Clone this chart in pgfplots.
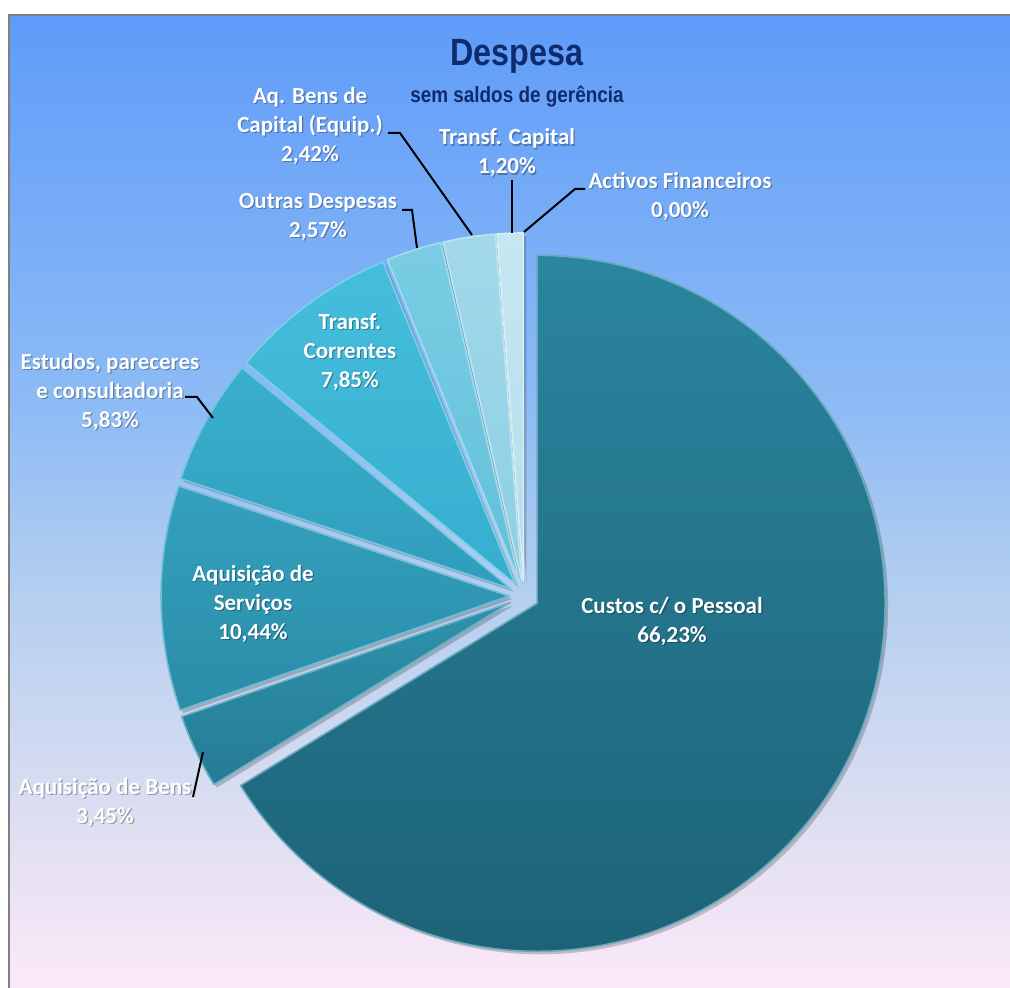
\documentclass[border=0pt]{standalone}
\usepackage{fontspec}
\setmainfont{Carlito}
\newfontfamily\titlefont{Liberation Sans}
\usepackage{graphicx}
\usepackage{pgfplots}
\usepackage{pgfplotstable}
\pgfplotsset{compat=1.18}

% slice colours (top / bottom of each gradient)
\definecolor{s0t}{HTML}{2A859E}\definecolor{s0b}{HTML}{1D6378}
\definecolor{s1t}{HTML}{2F92AC}\definecolor{s1b}{HTML}{257C94}
\definecolor{s2t}{HTML}{34A1BE}\definecolor{s2b}{HTML}{2A8CA8}
\definecolor{s3t}{HTML}{3AB0CE}\definecolor{s3b}{HTML}{2F9DBB}
\definecolor{s4t}{HTML}{45BEDD}\definecolor{s4b}{HTML}{36AECF}
\definecolor{s5t}{HTML}{7ACDE3}\definecolor{s5b}{HTML}{62C0DA}
\definecolor{s6t}{HTML}{A2D9EA}\definecolor{s6b}{HTML}{8DCFE3}
\definecolor{s7t}{HTML}{C6E7F1}\definecolor{s7b}{HTML}{B3DDEA}
\definecolor{s8t}{HTML}{DDF0F6}\definecolor{s8b}{HTML}{CFE9F1}
\definecolor{titleblue}{HTML}{0F2B6B}

\pgfdeclareverticalshading{bgshade}{100bp}{%
  color(0bp)=(rgb,255:red,252;green,233;blue,248);
  color(25bp)=(rgb,255:red,252;green,233;blue,248);
  color(34bp)=(rgb,255:red,220;green,222;blue,241);
  color(45bp)=(rgb,255:red,181;green,207;blue,240);
  color(55bp)=(rgb,255:red,141;green,187;blue,245);
  color(75bp)=(rgb,255:red,95;green,156;blue,249);
  color(100bp)=(rgb,255:red,95;green,156;blue,249)}

% share of each item in the expenditure (%)
\pgfplotstableread{
item        value
Custos      66.23
AqBens      3.45
Servicos    10.44
Estudos     5.83
TCorrentes  7.85
Outras      2.57
AqCapital   2.42
TCapital    1.20
Activos     0.00
}\despesa

\tikzset{lab/.style={text=white, align=center, inner sep=0pt,
  font=\fontsize{11.5}{14.5}\selectfont\bfseries}}
% white label with a soft dark shadow
\newcommand\lbl[2]{%
  \node[lab, text=black, opacity=0.3] at ([shift={(0.6pt,-0.6pt)}]axis cs:#1) {#2};
  \node[lab] at (axis cs:#1) {#2};}

\begin{document}
\begin{tikzpicture}
\begin{axis}[
    hide axis,
    scale only axis,
    width=505pt, height=494pt,
    xmin=0, xmax=1010, ymin=0, ymax=988,
    clip=false,
]
% background panel
\pgfplotsextra{
  \shade[shading=bgshade] (axis cs:10,0) rectangle (axis cs:1010,973);
  \draw[color=black!50, line width=1.3pt]
    (axis cs:9,0) -- (axis cs:9,973) -- (axis cs:1010,973);
}
% pie, clockwise from 12 o'clock, every slice pulled out a little
\pgfplotsextra{
  \pgfplotstablegetrowsof{\despesa}
  \pgfmathtruncatemacro\nrows{\pgfplotsretval-1}
  \xdef\angstart{90}
  \foreach \i in {0,...,\nrows}{
    \pgfplotstablegetelem{\i}{value}\of{\despesa}
    \pgfmathsetmacro\sweep{3.6*\pgfplotsretval}
    \pgfmathsetmacro\angend{\angstart-\sweep}
    \pgfmathsetmacro\mid{\angstart-\sweep/2}
    \pgfmathsetmacro\ox{524+15*cos(\mid)}
    \pgfmathsetmacro\oy{392+15*sin(\mid)}
    \ifdim\sweep pt>0.01pt
      \fill[black, opacity=0.2]
        ([shift={(1.5pt,-1.5pt)}]axis cs:\ox,\oy) -- ++(\angstart:174pt)
        arc[start angle=\angstart, end angle=\angend, radius=174pt] -- cycle;
      \path[top color=s\i t, bottom color=s\i b, draw=s\i t!70!white, line width=0.8pt,
            line join=round]
        (axis cs:\ox,\oy) -- ++(\angstart:174pt)
        arc[start angle=\angstart, end angle=\angend, radius=174pt] -- cycle;
    \fi
    \xdef\angstart{\angend}
  }
}
% leader lines
\draw[black, line width=1pt] (axis cs:388,855) -- (axis cs:400,855) -- (axis cs:472,753);
\draw[black, line width=1pt] (axis cs:512,808) -- (axis cs:512,755);
\draw[black, line width=1pt] (axis cs:585,799) -- (axis cs:575,799) -- (axis cs:524,756);
\draw[black, line width=1pt] (axis cs:402,778) -- (axis cs:412,778) -- (axis cs:417,740);
\draw[black, line width=1pt] (axis cs:185,591) -- (axis cs:197,591) -- (axis cs:213,570);
\draw[black, line width=1pt] (axis cs:193,191) -- (axis cs:203,236);
% title
\node[titleblue] at (axis cs:517,932)
  {\scalebox{0.85}[1]{\titlefont\fontsize{19}{22}\selectfont\bfseries Despesa}};
\node[titleblue] at (axis cs:517,891)
  {\scalebox{0.86}[1]{\titlefont\fontsize{11}{13}\selectfont\bfseries sem saldos de gerência}};
% labels
\lbl{310,862}{Aq. Bens de\\Capital (Equip.)\\2,42\%}
\lbl{507,835}{Transf. Capital\\1,20\%}
\lbl{680,792}{Activos Financeiros\\0,00\%}
\lbl{318,771}{Outras Despesas\\2,57\%}
\lbl{350,636}{Transf.\\Correntes\\7,85\%}
\lbl{110,596}{Estudos, pareceres\\e consultadoria\\5,83\%}
\lbl{253,384}{Aquisição de\\Serviços\\10,44\%}
\lbl{672,367}{Custos c/ o Pessoal\\66,23\%}
\lbl{105,186}{Aquisição de Bens\\3,45\%}
\end{axis}
\pgfresetboundingbox
\path (current axis.south west) rectangle (current axis.north east);
\end{tikzpicture}
\end{document}
